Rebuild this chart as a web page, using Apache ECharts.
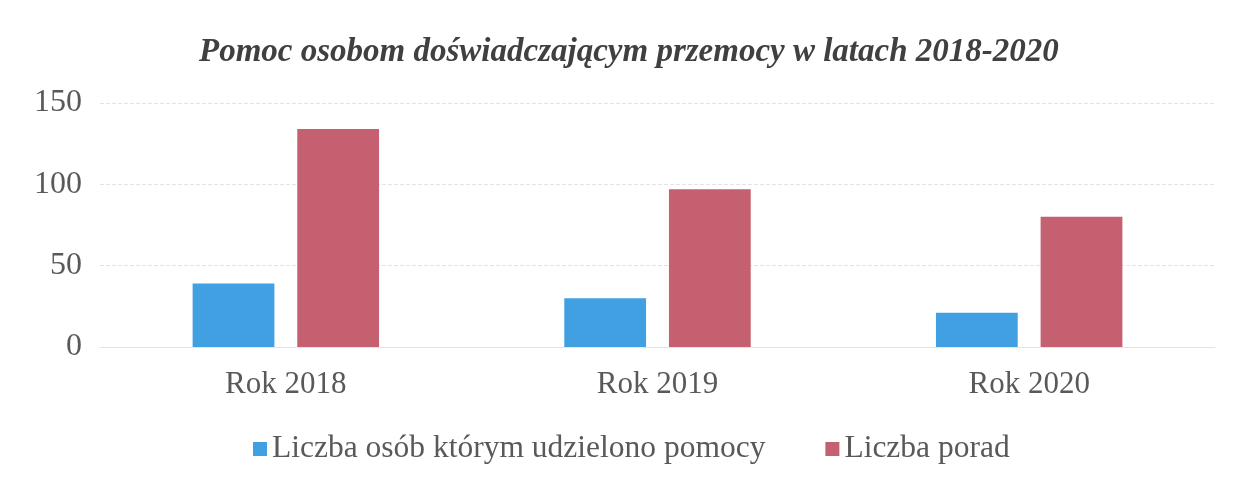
<!DOCTYPE html>
<html>
<head>
<meta charset="utf-8">
<script src="https://cdn.jsdelivr.net/npm/echarts@6/dist/echarts.min.js"></script>
<style>
  html, body { margin: 0; padding: 0; background: #fff; }
  #chart { width: 1241px; height: 483px; }
</style>
</head>
<body>
<div id="chart"></div>
<script>
// dane
var categories = ['Rok 2018', 'Rok 2019', 'Rok 2020'];
var seriesNames = ['Liczba osób którym udzielono pomocy', 'Liczba porad'];
var osobyPomoc = [39, 30, 21];
var porady = [134, 97, 80];
var yTicks = [0, 50, 100, 150];

var serif = '"Liberation Serif", "DejaVu Serif", serif';

var chart = echarts.init(document.getElementById('chart'));
chart.setOption({
  animation: false,
  title: {
    text: 'Pomoc osobom doświadczającym przemocy w latach 2018-2020',
    left: 194,
    top: 31,
    textStyle: {
      fontFamily: serif,
      fontStyle: 'italic',
      fontWeight: 'bold',
      fontSize: 33,
      color: '#404040'
    }
  },
  legend: {
    bottom: 13,
    left: 248,
    itemWidth: 14,
    itemHeight: 14,
    itemGap: 60,
    icon: 'rect',
    textStyle: { fontFamily: serif, fontSize: 31.5, color: '#595959' },
    data: seriesNames
  },
  grid: { left: 100, right: 26, top: 103, bottom: 136 },
  xAxis: {
    type: 'category',
    data: categories,
    axisLine: { show: true, lineStyle: { color: '#e4e4e4' } },
    axisTick: { show: false },
    axisLabel: { fontFamily: serif, fontSize: 31, color: '#595959', margin: 22 }
  },
  yAxis: {
    type: 'value',
    min: yTicks[0],
    max: yTicks[yTicks.length - 1],
    interval: 50,
    axisLine: { show: false },
    axisTick: { show: false },
    splitLine: { lineStyle: { color: '#e4e4e4', type: 'dashed' } },
    axisLabel: { fontFamily: serif, fontSize: 32, color: '#595959', margin: 18 }
  },
  series: [
    {
      name: seriesNames[0],
      type: 'bar',
      data: osobyPomoc,
      barWidth: '22%',
      barGap: '28%',
      itemStyle: { color: '#41a0e2' }
    },
    {
      name: seriesNames[1],
      type: 'bar',
      data: porady,
      barWidth: '22%',
      itemStyle: { color: '#c4606f' }
    }
  ]
});
</script>
</body>
</html>
